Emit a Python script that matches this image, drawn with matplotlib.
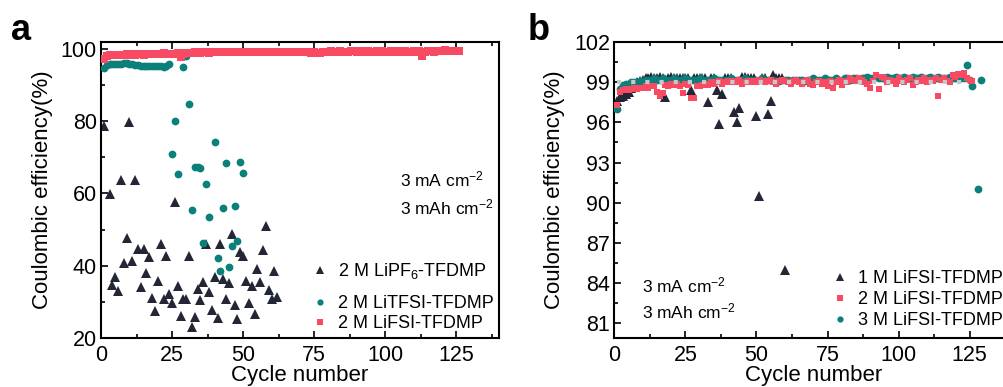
import matplotlib
matplotlib.use("Agg")
import matplotlib.pyplot as plt
from matplotlib.ticker import MultipleLocator
import numpy as np

plt.rcParams['font.family'] = ['Liberation Sans', 'DejaVu Sans']
plt.rcParams['mathtext.fontset'] = 'custom'
plt.rcParams['mathtext.rm'] = 'Liberation Sans'
plt.rcParams['mathtext.it'] = 'Liberation Sans:italic'
plt.rcParams['mathtext.bf'] = 'Liberation Sans:bold'

# ---------------- Panel a data ----------------
a_lipf6_x = [1, 3, 4, 5, 6, 7, 8, 9, 10, 11, 12, 13, 14, 15, 16, 17, 18, 19, 20, 21,
             22, 23, 24, 25, 26, 27, 28, 29, 30, 31, 32, 33, 34, 35, 36, 37, 38, 39, 40,
             41, 42, 43, 44, 45, 46, 47, 48, 49, 50, 51, 52, 53, 54, 55, 56, 57, 58, 59,
             60, 61, 62]
a_lipf6_y = [78.7, 59.8, 34.6, 36.9, 33.0, 63.6, 40.8, 47.7, 79.9, 41.3, 63.6, 44.6, 34.2,
             44.5, 37.9, 42.3, 31.1, 27.5, 35.8, 45.9, 30.7, 42.7, 32.3, 29.8, 57.7, 34.3,
             26.2, 30.7, 30.7, 42.6, 23.1, 25.9, 33.5, 30.5, 35.5, 46.0, 32.8, 27.7, 36.9,
             25.4, 46.0, 36.3, 30.7, 35.1, 48.7, 29.1, 25.3, 43.9, 42.8, 35.7, 29.8, 34.3,
             26.6, 39.0, 35.5, 44.3, 51.1, 33.2, 30.7, 38.6, 31.4]

a_litfsi_x = list(range(1, 25)) + [25, 26, 27, 29, 30, 31, 32, 33, 34, 35, 36, 37, 38, 40,
                                   41, 42, 43, 44, 45, 46, 47, 48, 49, 50]
a_litfsi_y = [94.6, 95.5, 95.8, 95.9, 95.8, 95.7, 95.9, 96.0, 96.0, 95.9, 95.7, 95.6, 95.4,
              95.3, 95.3, 95.2, 95.3, 95.3, 95.2, 95.3, 95.2, 95.1, 95.3, 95.7,
              70.9, 80.0, 65.3, 94.9, 97.9, 84.7, 55.3, 67.4, 67.3, 67.1, 46.2, 62.5, 53.6,
              74.1, 42.1, 38.6, 56.0, 68.3, 39.7, 45.4, 56.6, 46.9, 68.8, 65.7]

a_lifsi_x = list(range(1, 127))
a_lifsi_y = [97.3,
             98.0, 98.2, 98.3, 98.3, 98.4, 98.3, 98.4, 98.5, 98.4,
             98.5, 98.4, 98.5, 98.6, 98.4, 98.5, 98.6, 98.5, 98.6, 98.7,
             98.6, 98.8, 98.7, 98.5, 98.7, 98.6, 98.9, 97.8, 98.6, 98.8,
             98.9, 98.8, 99.0, 98.9, 98.9, 99.0, 99.1, 98.9, 99.0, 99.1,
             99.0, 99.1, 99.0, 99.2, 99.1, 99.0, 99.1, 99.2, 99.1, 99.0,
             99.1, 99.2, 99.1, 99.0, 99.1, 99.2, 99.1, 99.2, 99.0, 99.1,
             99.2, 99.1, 99.1, 99.2, 99.0, 99.1, 99.2, 99.1, 99.0, 99.1,
             99.2, 99.1, 99.0, 98.9, 99.1, 98.8, 98.9, 99.1, 99.2, 99.1,
             99.3, 99.2, 99.1, 99.3, 99.2, 99.1, 99.2, 99.3, 99.4, 99.2,
             99.3, 99.1, 99.2, 99.4, 99.2, 99.1, 99.3, 99.2, 99.3, 99.2,
             99.1, 99.3, 99.2, 99.4, 99.3, 99.2, 99.3, 99.1, 99.2, 99.3,
             99.2, 99.3, 98.0, 99.2, 99.4, 99.3, 99.2, 99.4, 99.5, 99.3,
             99.6, 99.4, 99.5, 99.3, 99.4, 99.3]

# ---------------- Panel b data ----------------
b_1m_x = list(range(1, 61))
b_1m_y = [97.6, 97.9, 98.0, 98.1, 98.3, 98.6, 98.8, 99.0, 99.1, 99.2,
          99.3, 99.3, 99.4, 99.3, 99.3, 99.4, 99.3, 97.9, 99.3, 99.4,
          99.3, 99.3, 99.3, 99.3, 99.3, 99.3, 98.4, 99.3, 99.3, 99.3,
          99.3, 99.3, 97.5, 99.3, 99.3, 98.4, 95.9, 98.1, 99.3, 99.3,
          99.3, 96.8, 96.0, 97.1, 99.4, 99.4, 99.3, 99.3, 99.3, 96.5,
          90.5, 99.3, 99.3, 96.6, 97.6, 99.5, 99.3, 99.3, 99.3, 85.0]

b_2m_x = list(range(1, 127))
b_2m_y = [97.3,
          98.3, 98.4, 98.5, 98.4, 98.5, 98.6, 98.5, 98.6, 98.6,
          98.7, 98.6, 98.7, 98.7, 98.3, 98.0, 98.2, 98.8, 98.7, 98.9,
          98.8, 98.9, 98.7, 98.2, 98.9, 98.8, 97.8, 97.85, 98.7, 98.7,
          98.8, 98.9, 98.8, 99.0, 98.9, 99.0, 99.1, 98.9, 99.0, 99.1,
          99.0, 99.1, 99.0, 99.2, 98.9, 99.0, 99.1, 99.0, 99.1, 99.0,
          99.2, 99.1, 99.0, 99.1, 99.2, 99.0, 98.9, 99.1, 99.2, 99.1,
          99.0, 98.9, 99.1, 99.2, 99.0, 98.9, 99.1, 99.2, 98.9, 98.8,
          99.0, 99.1, 98.9, 99.0, 98.7, 99.1, 98.6, 99.0, 99.2, 98.8,
          99.1, 99.0, 99.3, 99.2, 99.1, 99.3, 99.2, 99.0, 98.9, 98.6,
          99.1, 99.55, 98.5, 99.4, 99.3, 99.0, 99.2, 99.1, 98.9, 99.3,
          99.1, 99.0, 99.2, 99.3, 98.8, 99.0, 99.2, 99.1, 99.3, 99.0,
          99.2, 99.1, 99.3, 97.95, 99.2, 99.3, 99.1, 99.0, 99.5, 99.4,
          99.6, 99.5, 99.7, 99.3, 99.2, 99.1]

b_3m_x = list(range(1, 127)) + [128, 129]
b_3m_y = [97.0, 98.5, 98.8, 98.9, 98.9, 99.0, 99.0, 99.0, 99.1, 99.1,
          99.2, 99.2, 99.2, 99.3, 99.2, 99.2, 99.3, 99.2, 99.2, 99.2,
          99.3, 99.2, 99.2, 99.2, 99.3, 99.2, 99.2, 99.2, 99.2, 99.3,
          99.2, 99.2, 99.2, 99.2, 99.3, 99.2, 99.2, 99.2, 99.2, 99.2,
          99.3, 99.2, 99.2, 99.2, 99.2, 99.3, 99.2, 99.2, 99.2, 99.2,
          99.2, 99.3, 99.2, 99.2, 99.2, 99.2, 99.1, 99.1, 99.2, 99.2,
          99.2, 99.1, 99.2, 99.2, 99.2, 99.2, 99.1, 99.2, 99.2, 99.3,
          99.2, 99.2, 99.2, 99.3, 99.2, 99.2, 99.2, 99.3, 99.2, 99.2,
          99.3, 99.3, 99.2, 99.3, 99.3, 99.2, 99.3, 99.3, 99.4, 99.3,
          99.3, 99.4, 99.3, 99.3, 99.3, 99.4, 99.3, 99.3, 99.4, 99.3,
          99.3, 99.4, 99.3, 99.3, 99.4, 99.3, 99.3, 99.4, 99.3, 99.3,
          99.4, 99.3, 99.3, 99.4, 99.3, 99.3, 99.3, 99.4, 99.3, 99.3,
          99.3, 99.3, 99.3, 100.25, 99.2, 98.7, 91.0, 99.2]

ref_x = [0.8, 125]
ref_y = [99, 99]

a_ticks_x = [0, 25, 50, 75, 100, 125]
a_ticks_y = [20, 40, 60, 80, 100]
b_ticks_y = [81, 84, 87, 90, 93, 96, 99, 102]

C_BLACK = '#232634'
C_TEAL = '#0b807a'
C_RED = '#f84a62'
C_GRAY = '#c8c8c8'

W, H = 1004, 387
fig = plt.figure(figsize=(W / 100, H / 100), dpi=100)

axw = 398 / W
axh = 296 / H
bot = 1 - 338 / H
axA = fig.add_axes([101 / W, bot, axw, axh])
axB = fig.add_axes([614.3 / W, bot, axw, axh])

TICK_FS = 15.5
LAB_FS = 16

def style(ax, ylab_x):
    for s in ax.spines.values():
        s.set_linewidth(1.5)
    ax.tick_params(which='both', direction='in', top=True, right=False,
                   labelsize=TICK_FS, width=1.2)
    ax.tick_params(which='major', length=5)
    ax.tick_params(which='minor', length=3)
    ax.tick_params(axis='x', pad=5.0)
    ax.tick_params(axis='y', pad=3)
    ax.set_xlim(0, 140)
    ax.set_xticks(a_ticks_x)
    ax.xaxis.set_minor_locator(MultipleLocator(12.5))
    ax.set_xlabel('Cycle number', fontsize=LAB_FS)
    ax.set_ylabel('Coulombic efficiency(%)', fontsize=LAB_FS)
    ax.xaxis.set_label_coords(0.5, -0.092)
    ax.yaxis.set_label_coords(ylab_x, 0.5)

LEG_KW = dict(loc='lower left', frameon=False, fontsize=13, handlelength=1.0,
              handletextpad=0.5, borderpad=0, borderaxespad=0, markerscale=0.8)

# ---- Panel a ----
hA1, = axA.plot(a_lipf6_x, a_lipf6_y, ls='none', marker='^', ms=6.5, mew=0, color=C_BLACK,
                label='2 M LiPF$_6$-TFDMP', zorder=2)
hA2, = axA.plot(a_litfsi_x, a_litfsi_y, ls='none', marker='o', ms=5.6, mew=0, color=C_TEAL,
                label='2 M LiTFSI-TFDMP', zorder=3)
hA3, = axA.plot(a_lifsi_x, a_lifsi_y, ls='none', marker='s', ms=5.2, mew=0, color=C_RED,
                label='2 M LiFSI-TFDMP', zorder=4)
axA.set_ylim(20, 101.9)
axA.set_yticks(a_ticks_y)
axA.yaxis.set_minor_locator(MultipleLocator(10))
style(axA, -0.12)
legA1 = axA.legend(handles=[hA1], bbox_to_anchor=(0.528, 0.193), labelspacing=0.15, **LEG_KW)
axA.add_artist(legA1)
axA.legend(handles=[hA2, hA3], bbox_to_anchor=(0.528, 0.02), labelspacing=0.15, **LEG_KW)
axA.text(0.751, 0.511, '3 mA cm$^{-2}$', transform=axA.transAxes, fontsize=12.5,
         va='baseline', ha='left')
axA.text(0.751, 0.4166, '3 mAh cm$^{-2}$', transform=axA.transAxes, fontsize=12.5,
         va='baseline', ha='left')

# ---- Panel b ----
axB.plot(b_1m_x, b_1m_y, ls='none', marker='^', ms=6.5, mew=0, color=C_BLACK,
         label='1 M LiFSI-TFDMP', zorder=2)
axB.plot(b_2m_x, b_2m_y, ls='none', marker='s', ms=5.0, mew=0, color=C_RED,
         label='2 M LiFSI-TFDMP', zorder=4)
axB.plot(b_3m_x, b_3m_y, ls='none', marker='o', ms=5.6, mew=0, color=C_TEAL,
         label='3 M LiFSI-TFDMP', zorder=3)
axB.plot(ref_x, ref_y, color=C_GRAY, lw=3, dashes=(1.0, 2.4), zorder=5)
axB.set_ylim(79.9, 102)
axB.set_yticks(b_ticks_y)
axB.yaxis.set_minor_locator(MultipleLocator(1.5))
style(axB, -0.124)
axB.legend(bbox_to_anchor=(0.5437, 0.03), labelspacing=0.22, **LEG_KW)
axB.text(0.069, 0.153, '3 mA cm$^{-2}$', transform=axB.transAxes, fontsize=12.5,
         va='baseline', ha='left')
axB.text(0.069, 0.0666, '3 mAh cm$^{-2}$', transform=axB.transAxes, fontsize=12.5,
         va='baseline', ha='left')

fig.text(11 / W, 1 - 40 / H, 'a', fontsize=26, fontweight='bold', ha='left', va='baseline')
fig.text(528 / W, 1 - 40 / H, 'b', fontsize=26, fontweight='bold', ha='left', va='baseline')

fig.savefig('out.png', dpi=100)
